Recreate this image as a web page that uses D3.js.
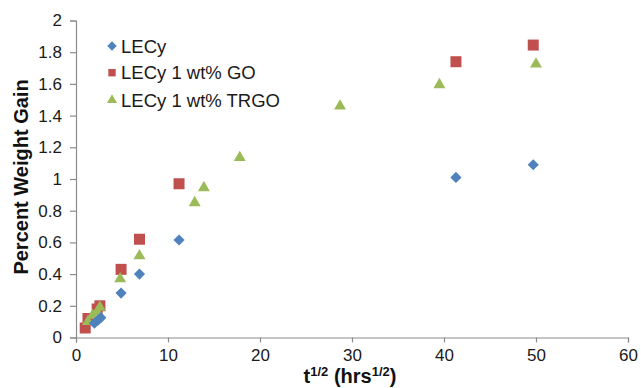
<!DOCTYPE html>
<html>
<head>
<meta charset="utf-8">
<script src="https://cdn.jsdelivr.net/npm/d3@7"></script>
<style>
  html, body { margin: 0; padding: 0; background: #fff; }
  svg { display: block; font-family: "Liberation Sans", Arial, sans-serif; }
</style>
</head>
<body>
<svg id="chart" width="641" height="388"></svg>
<script>
// Water uptake: percent weight gain vs square root of time
const seriesNames = ["LECy", "LECy 1 wt% GO", "LECy 1 wt% TRGO"];
const seriesColors = ["#4F81BD", "#C0504D", "#9BBB59"];

const lecyX = [2.0, 2.4, 2.7, 4.9, 6.9, 11.2, 41.3, 49.7];
const lecyY = [0.09, 0.11, 0.125, 0.28, 0.40, 0.615, 1.01, 1.09];

const goX = [1.0, 1.3, 2.3, 2.6, 4.9, 6.9, 11.2, 41.3, 49.7];
const goY = [0.06, 0.12, 0.18, 0.2, 0.43, 0.62, 0.97, 1.74, 1.845];

const trgoX = [1.3, 1.8, 2.3, 2.6, 4.8, 6.9, 12.9, 13.9, 17.8, 28.7, 39.5, 50.0];
const trgoY = [0.10, 0.14, 0.16, 0.19, 0.37, 0.515, 0.85, 0.945, 1.135, 1.46, 1.595, 1.725];

const xTicks = [0, 10, 20, 30, 40, 50, 60];
const yTicks = [0, 0.2, 0.4, 0.6, 0.8, 1, 1.2, 1.4, 1.6, 1.8, 2];

const svg = d3.select("#chart");
const x = d3.scaleLinear().domain([0, 60]).range([76, 628]);
const y = d3.scaleLinear().domain([0, 2]).range([337.5, 20.5]);

const axisColor = "#8c8c8c";

// x axis
const gx = svg.append("g").attr("transform", `translate(0,${y(0)})`)
  .call(d3.axisBottom(x).tickValues(xTicks).tickSize(5).tickPadding(6).tickFormat(d3.format("d")));
// y axis
const gy = svg.append("g").attr("transform", `translate(${x(0)},0)`)
  .call(d3.axisLeft(y).tickValues(yTicks).tickSize(6).tickPadding(8).tickFormat(d => String(+d.toFixed(1))));

[gx, gy].forEach(g => {
  g.select(".domain").attr("stroke", axisColor).attr("stroke-width", 1.2);
  g.selectAll(".tick line").attr("stroke", axisColor).attr("stroke-width", 1.2);
  g.selectAll(".tick text").attr("fill", "#1a1a1a").style("font-size", "17px")
    .style("font-family", "'Liberation Sans', Arial, sans-serif");
});

// axis titles
const xt = svg.append("text").attr("x", 350).attr("y", 383).attr("text-anchor", "middle")
  .style("font-size", "20px").style("font-weight", "bold").attr("fill", "#111");
xt.append("tspan").text("t");
xt.append("tspan").attr("dy", -7).style("font-size", "13px").text("1/2");
xt.append("tspan").attr("dy", 7).text(" (hrs");
xt.append("tspan").attr("dy", -7).style("font-size", "13px").text("1/2");
xt.append("tspan").attr("dy", 7).text(")");

svg.append("text").attr("transform", "translate(28,177) rotate(-90)").attr("text-anchor", "middle")
  .style("font-size", "20px").style("font-weight", "bold").attr("fill", "#111")
  .text("Percent Weight Gain");

// marker shapes
function markerPath(i, scale) {
  if (i === 0) return d3.symbol(d3.symbolSquare, 62 * scale)();
  if (i === 1) return d3.symbol(d3.symbolSquare, 121 * scale)();
  return d3.symbol(d3.symbolTriangle, 62 * scale)();
}
const rot = i => (i === 0 ? " rotate(45)" : "");

const series = [
  { xs: lecyX, ys: lecyY },
  { xs: goX, ys: goY },
  { xs: trgoX, ys: trgoY }
];

// draw in order: GO (red) first, then TRGO, then LECy on top of the cluster
[1, 2, 0].forEach(i => {
  const s = series[i];
  const pts = s.xs.map((v, k) => [v, s.ys[k]]);
  svg.append("g").selectAll("path").data(pts).join("path")
    .attr("d", markerPath(i, 1))
    .attr("transform", d => `translate(${x(d[0])},${y(d[1])})${rot(i)}`)
    .attr("fill", seriesColors[i]);
});

// legend
const legend = svg.append("g");
const rowsY = [46, 72.7, 100];
seriesNames.forEach((name, i) => {
  legend.append("path")
    .attr("d", markerPath(i, i === 1 ? 0.45 : 0.7))
    .attr("transform", `translate(112,${rowsY[i]})${rot(i)}`)
    .attr("fill", seriesColors[i]);
  legend.append("text").attr("x", 121).attr("y", rowsY[i]).attr("dy", "0.36em")
    .style("font-size", "18.5px").attr("fill", "#1a1a1a").text(name);
});
</script>
</body>
</html>
